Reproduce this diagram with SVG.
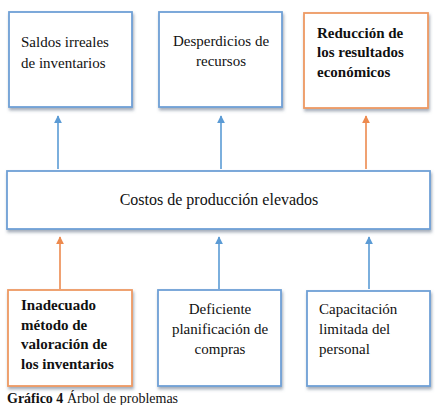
<svg xmlns="http://www.w3.org/2000/svg" width="437" height="405" viewBox="0 0 437 405">
<style>
.box{fill:#fff;stroke-width:1.8;filter:url(#sh)}
.b{stroke:#6fa0d6}
.o{stroke:#ee9a63}
text{font-family:'Liberation Serif','DejaVu Serif',serif;font-size:15px;fill:#111}
.bold{font-weight:bold}
.mid{text-anchor:middle}
.cb{stroke:#5b9bd5;stroke-width:1.6;fill:none}
.co{stroke:#ed8a4e;stroke-width:1.6;fill:none}
</style>
<defs>
<filter id="sh" x="-10%" y="-10%" width="125%" height="130%">
<feDropShadow dx="1" dy="2.5" stdDeviation="1.5" flood-color="#5a6a80" flood-opacity="0.55"/>
</filter>
<marker id="ab" viewBox="0 0 10 10" refX="9" refY="5" markerWidth="8" markerHeight="8" markerUnits="userSpaceOnUse" orient="auto"><path d="M0,0 L10,5 L0,10 z" fill="#5b9bd5"/></marker>
<marker id="ao" viewBox="0 0 10 10" refX="9" refY="5" markerWidth="8" markerHeight="8" markerUnits="userSpaceOnUse" orient="auto"><path d="M0,0 L10,5 L0,10 z" fill="#ed8a4e"/></marker>
</defs>
<rect width="437" height="405" fill="#fff"/>
<g id="connectors">
<line class="cb" x1="58" y1="169" x2="58" y2="116" marker-end="url(#ab)"/>
<line class="cb" x1="221" y1="169" x2="221" y2="116" marker-end="url(#ab)"/>
<line class="co" x1="366" y1="169" x2="366" y2="116" marker-end="url(#ao)"/>
<line class="co" x1="60" y1="289" x2="60" y2="237" marker-end="url(#ao)"/>
<line class="cb" x1="219" y1="289" x2="219" y2="237" marker-end="url(#ab)"/>
<line class="cb" x1="369" y1="289" x2="369" y2="237" marker-end="url(#ab)"/>
</g>
<g id="saldos">
<rect class="box b" x="9" y="12" width="123" height="95"/>
<text x="21" y="47">Saldos irreales</text>
<text x="21" y="68">de inventarios</text>
</g>
<g id="desperdicios">
<rect class="box b" x="159" y="12" width="123" height="95"/>
<text class="mid" x="221" y="46">Desperdicios de</text>
<text class="mid" x="221" y="66">recursos</text>
</g>
<g id="reduccion">
<rect class="box o" x="304" y="13" width="124" height="95"/>
<text class="bold" x="317" y="38">Reducción de</text>
<text class="bold" x="317" y="57">los resultados</text>
<text class="bold" x="317" y="77">económicos</text>
</g>
<g id="costos">
<rect class="box b" x="7" y="171" width="423" height="58"/>
<text class="mid" x="219" y="205" style="font-size:16px">Costos de producción elevados</text>
</g>
<g id="inadecuado">
<rect class="box o" x="8" y="290" width="124" height="96"/>
<text class="bold" x="21" y="310">Inadecuado</text>
<text class="bold" x="21" y="330">método de</text>
<text class="bold" x="21" y="349">valoración de</text>
<text class="bold" x="21" y="369">los inventarios</text>
</g>
<g id="deficiente">
<rect class="box b" x="158" y="290" width="123" height="96"/>
<text class="mid" x="220" y="314">Deficiente</text>
<text class="mid" x="220" y="334">planificación de</text>
<text class="mid" x="220" y="354">compras</text>
</g>
<g id="capacitacion">
<rect class="box b" x="307" y="291" width="123" height="95"/>
<text x="319" y="314">Capacitación</text>
<text x="319" y="334">limitada del</text>
<text x="319" y="354">personal</text>
</g>
<text x="7" y="403" style="font-size:14px"><tspan class="bold">Gráfico 4</tspan> Árbol de problemas</text>
</svg>
